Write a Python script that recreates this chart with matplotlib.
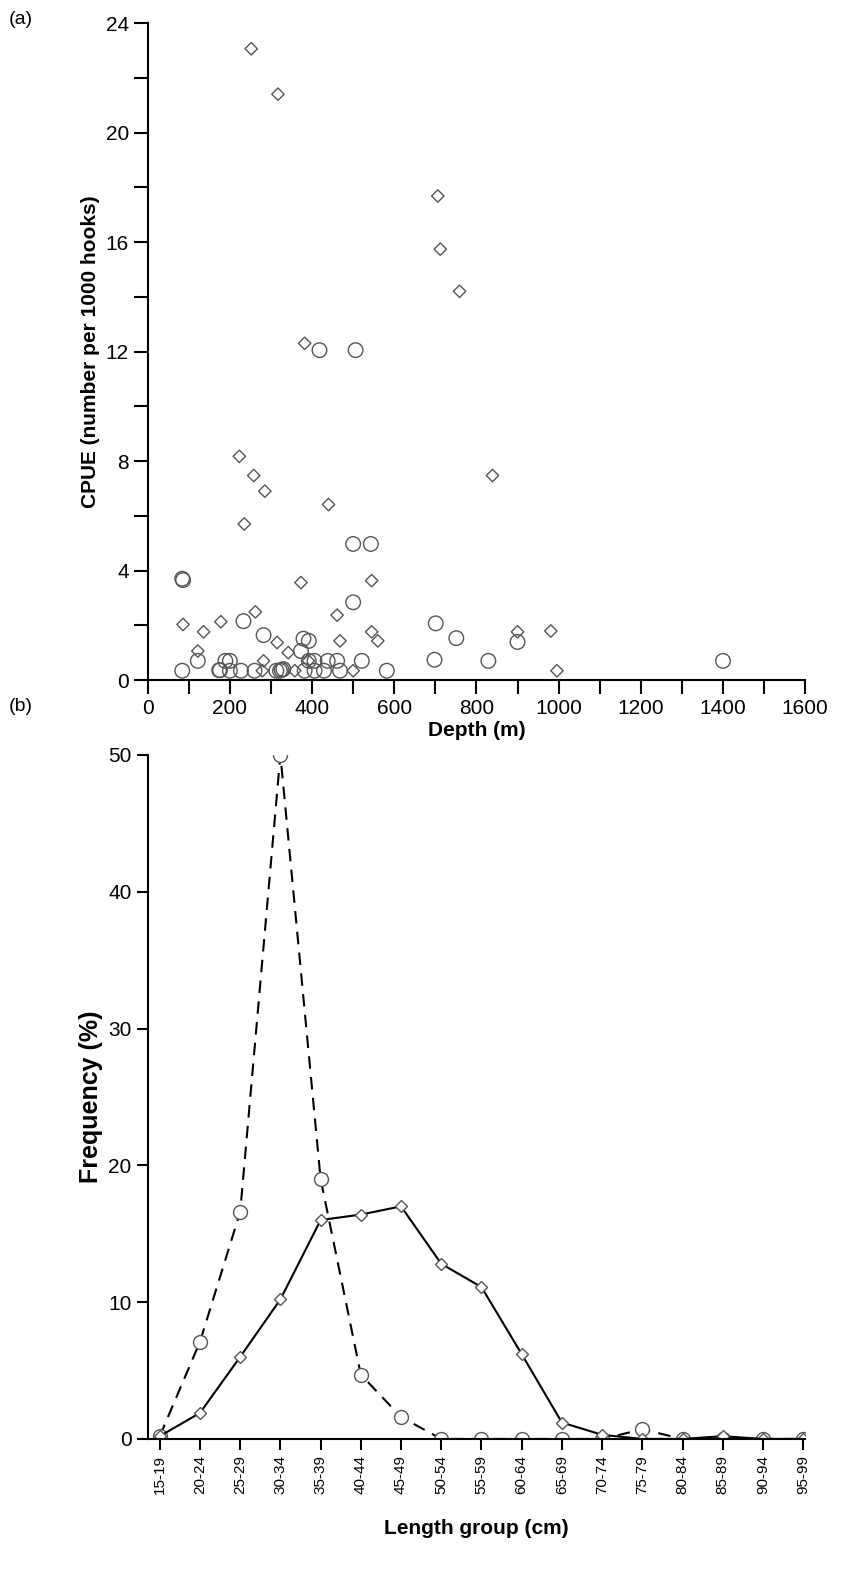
import matplotlib
matplotlib.use("Agg")
import matplotlib.pyplot as plt
from matplotlib.ticker import MultipleLocator

# Panel (a): diamonds
dia_depth = [252, 317, 706, 712, 759, 382, 223, 258, 285, 440, 839, 235,
             86, 122, 136, 178, 262, 282, 279, 315, 342, 358, 373, 391, 461, 468,
             500, 545, 545, 560, 900, 981, 996]
dia_cpue = [23.06, 21.4, 17.68, 15.74, 14.2, 12.3, 8.17, 7.47, 6.9, 6.41, 7.47, 5.7,
            2.03, 1.06, 1.76, 2.13, 2.49, 0.70, 0.34, 1.37, 1.0, 0.34, 3.56, 0.70, 2.37, 1.43,
            0.34, 3.63, 1.76, 1.43, 1.76, 1.79, 0.34]
# Panel (a): circles
cir_depth = [418, 506, 500, 543, 84, 86, 84, 122, 174, 176, 200, 189, 200, 227, 233, 260, 282,
             313, 326, 322, 330, 373, 379, 392, 382, 392, 406, 406, 429, 438, 461, 468,
             500, 521, 582, 701, 698, 751, 829, 900, 1400]
cir_cpue = [12.05, 12.05, 4.97, 4.97, 3.7, 3.65, 0.34, 0.7, 0.36, 0.36, 0.7, 0.7, 0.34, 0.34, 2.15, 0.34, 1.64,
            0.34, 0.37, 0.34, 0.4, 1.06, 1.51, 1.43, 0.34, 0.7, 0.7, 0.34, 0.34, 0.7, 0.7, 0.34,
            2.84, 0.7, 0.34, 2.07, 0.74, 1.53, 0.7, 1.39, 0.7]

# Panel (b)
groups = ["15-19", "20-24", "25-29", "30-34", "35-39", "40-44", "45-49", "50-54", "55-59",
          "60-64", "65-69", "70-74", "75-79", "80-84", "85-89", "90-94", "95-99"]
freq_circle = [0.2, 7.1, 16.6, 50.0, 19.0, 4.7, 1.6, 0, 0, 0, 0, 0, 0.7, 0, 0, 0, 0]
freq_diamond = [0.2, 1.9, 6.0, 10.2, 16.0, 16.4, 17.0, 12.8, 11.1, 6.2, 1.2, 0.3, 0, 0, 0.2, 0, 0]

plt.rcParams['font.family'] = ['Liberation Sans', 'DejaVu Sans']
fig = plt.figure(figsize=(8.44, 15.87), dpi=100)

axa = fig.add_axes([0.175, 0.5715, 0.779, 0.414])
axa.scatter(dia_depth, dia_cpue, marker='D', s=40, facecolors='none', edgecolors='#555555', linewidths=1.0)
axa.scatter(cir_depth, cir_cpue, marker='o', s=110, facecolors='none', edgecolors='#555555', linewidths=1.0)
axa.set_xlim(0, 1600)
axa.set_ylim(0, 24)
axa.xaxis.set_major_locator(MultipleLocator(200))
axa.xaxis.set_minor_locator(MultipleLocator(100))
axa.yaxis.set_major_locator(MultipleLocator(4))
axa.yaxis.set_minor_locator(MultipleLocator(2))
for s in ['top', 'right']:
    axa.spines[s].set_visible(False)
for s in ['left', 'bottom']:
    axa.spines[s].set_linewidth(1.5)
axa.tick_params(which='major', direction='out', length=10, width=1.5, labelsize=15)
axa.tick_params(which='minor', direction='out', length=10, width=1.5)
axa.set_xlabel('Depth (m)', fontsize=15, fontweight='bold', labelpad=2)
axa.set_ylabel('CPUE (number per 1000 hooks)', fontsize=15, fontweight='bold')
fig.text(0.01, 0.988, '(a)', fontsize=14, va='center')

axb = fig.add_axes([0.175, 0.0933, 0.779, 0.431])
x = list(range(len(groups)))
axb.plot(x, freq_circle, linestyle=(0, (6, 4)), color='black', lw=1.5, marker='o', ms=10,
         mfc='white', mec='#555555', mew=1.0)
axb.plot(x, freq_diamond, linestyle='-', color='black', lw=1.5, marker='D', ms=6,
         mfc='white', mec='#555555', mew=1.0)
axb.set_xlim(-0.3, 16.05)
axb.set_ylim(0, 50)
axb.set_xticks(x)
axb.set_xticklabels(groups, rotation=90, fontsize=11)
axb.yaxis.set_major_locator(MultipleLocator(10))
for s in ['top', 'right']:
    axb.spines[s].set_visible(False)
for s in ['left', 'bottom']:
    axb.spines[s].set_linewidth(1.5)
axb.tick_params(axis='y', direction='out', length=8, width=1.5, labelsize=15)
axb.tick_params(axis='x', direction='out', length=8, width=1.5)
axb.set_xlabel('Length group (cm)', fontsize=15, fontweight='bold', labelpad=18)
axb.set_ylabel('Frequency (%)', fontsize=18, fontweight='bold')
fig.text(0.01, 0.555, '(b)', fontsize=14, va='center')

fig.savefig('out.png', dpi=100)
